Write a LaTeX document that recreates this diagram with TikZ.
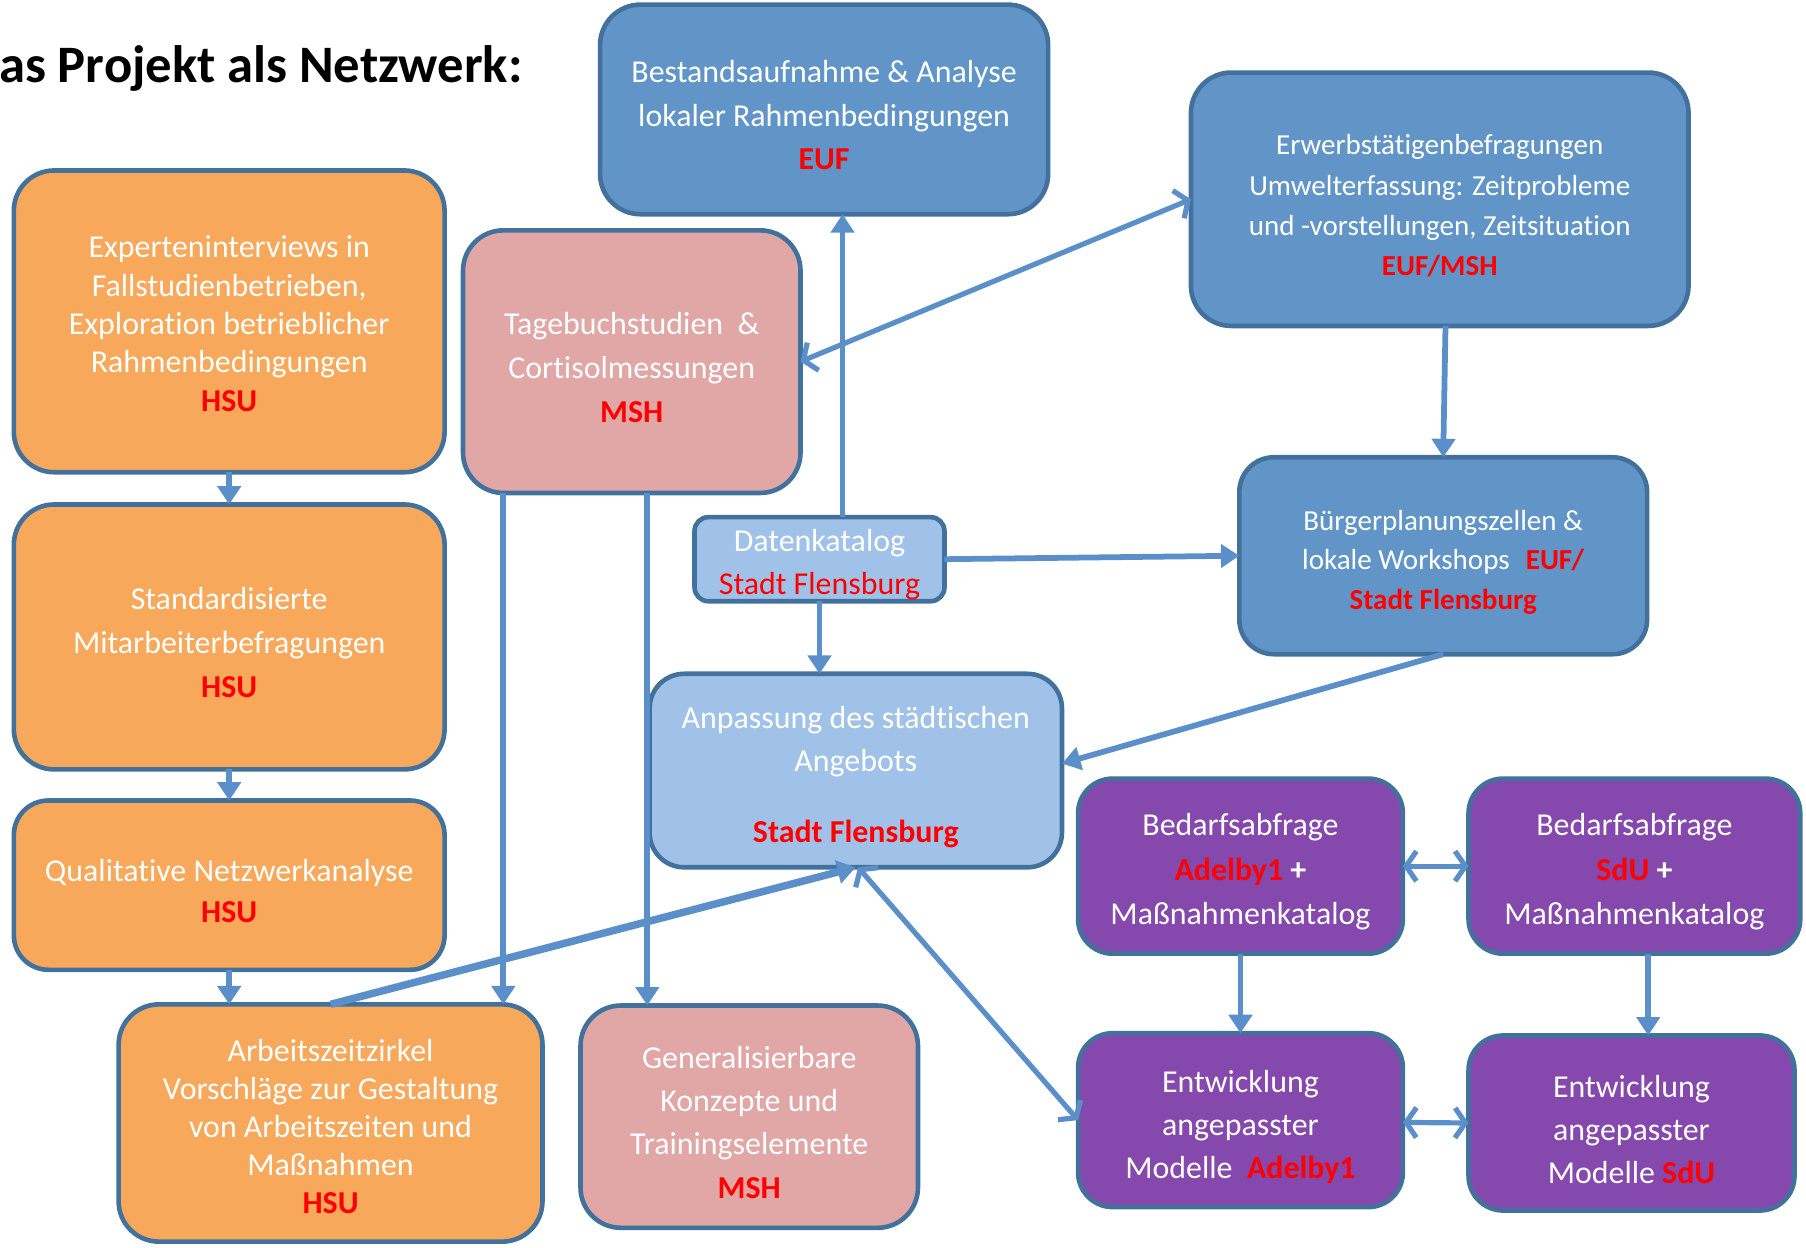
\documentclass[tikz,border=0pt]{standalone}
\usepackage{fontspec}
\setmainfont{Carlito}[Ligatures={NoCommon}]
\usetikzlibrary{arrows.meta}
\definecolor{bordc}{HTML}{41719C}
\definecolor{arrc}{HTML}{5B8FC9}
\definecolor{orf}{HTML}{F8A85A}
\definecolor{pkf}{HTML}{E0A7A6}
\definecolor{blf}{HTML}{6195C8}
\definecolor{lbf}{HTML}{A0C2E8}
\definecolor{puf}{HTML}{8548AC}
\newcommand\rb[1]{\textcolor{red}{\textbf{#1}}}
\newcommand\st{\rule{0pt}{29pt}}
\begin{document}
\begin{tikzpicture}[x=1pt,y=-1pt,
  box/.style={draw=bordc,line width=4pt,rounded corners=35pt,inner sep=0pt,outer sep=0pt,
    align=center,text=white,font=\fontsize{27.7}{36}\selectfont},
  orbox/.style={box,fill=orf},
  pkbox/.style={box,fill=pkf},
  blbox/.style={box,fill=blf},
  lbbox/.style={box,fill=lbf},
  pubox/.style={box,fill=puf,rounded corners=30pt},
  conn/.style={draw=arrc,line width=5pt,-{Triangle[length=16pt,width=20pt]}},
  dconn/.style={draw=arrc,line width=4.5pt,
    {Straight Barb[length=9pt,width=26pt]}-{Straight Barb[length=9pt,width=26pt]}}
]
\useasboundingbox (0,0) rectangle (1568,1083);

% title
\node[anchor=base west,inner sep=0pt,font=\fontsize{45.7}{50}\selectfont\bfseries] (title) at (-1,72) {as Projekt als Netzwerk:};

% orange column
\node[orbox,minimum width=374pt,minimum height=262pt,font=\fontsize{27.7}{33.3}\selectfont] (exp) at (199,279)
  {\rule{0pt}{23pt}Experteninterviews in\\Fallstudienbetrieben,\\Exploration betrieblicher\\Rahmenbedingungen\\\rb{HSU}};
\node[orbox,minimum width=374pt,minimum height=230pt,font=\fontsize{27.7}{38.5}\selectfont] (std) at (199,553)
  {\st Standardisierte\\Mitarbeiterbefragungen\\\rb{HSU}};
\node[orbox,minimum width=374pt,minimum height=147pt,rounded corners=30pt] (qual) at (199,768.5)
  {\st Qualitative Netzwerkanalyse\\\rb{HSU}};
\node[orbox,minimum width=368pt,minimum height=206pt,font=\fontsize{27.7}{33}\selectfont] (arb) at (287,975)
  {\rule{0pt}{25pt}Arbeitszeitzirkel\\Vorschläge zur Gestaltung\\von Arbeitszeiten und\\Maßnahmen\\\rb{HSU}};

% pink
\node[pkbox,minimum width=293pt,minimum height=228pt,font=\fontsize{27.7}{38}\selectfont] (tage) at (548.5,314)
  {\st Tagebuchstudien~~\&\\Cortisolmessungen\\\rb{MSH}};
\node[pkbox,minimum width=293pt,minimum height=193pt,font=\fontsize{27.7}{37.7}\selectfont] (gen) at (650.5,969.5)
  {\st Generalisierbare\\Konzepte und\\Trainingselemente\\\rb{MSH}};

% blue
\node[blbox,minimum width=389pt,minimum height=182pt,font=\fontsize{27.7}{38}\selectfont] (best) at (715.5,95)
  {\st Bestandsaufnahme \& Analyse\\lokaler Rahmenbedingungen\\\rb{EUF}};
\node[blbox,minimum width=432pt,minimum height=220pt,font=\fontsize{25.2}{35}\selectfont] (erw) at (1250,173)
  {\st Erwerbstätigenbefragungen\\Umwelterfassung: Zeitprobleme\\und -vorstellungen, Zeitsituation\\\rb{EUF/MSH}};
\node[blbox,minimum width=354pt,minimum height=171pt,rounded corners=30pt,font=\fontsize{25.2}{34.5}\selectfont] (bue) at (1253,482.5)
  {\st Bürgerplanungszellen \&\\lokale Workshops\hspace{14pt}\rb{EUF/}\\\rb{Stadt Flensburg}};

% light blue
\node[lbbox,minimum width=217pt,minimum height=73pt,rounded corners=12pt,font=\fontsize{27.7}{37}\selectfont] (dat) at (711.5,485.5)
  {\st Datenkatalog\\\textcolor{red}{Stadt Flensburg}};
\node[lbbox,minimum width=358pt,minimum height=168pt,rounded corners=30pt,font=\fontsize{27.7}{37}\selectfont] (anp) at (743,669)
  {\rule{0pt}{31pt}Anpassung des städtischen\\Angebots\\[25pt]\rb{Stadt Flensburg}};

% purple
\node[pubox,minimum width=282pt,minimum height=152pt,font=\fontsize{27.7}{38.5}\selectfont] (bedA) at (1077,752)
  {\st Bedarfsabfrage\\\rb{Adelby1} \textbf{+}\\Maßnahmenkatalog};
\node[pubox,minimum width=288pt,minimum height=152pt,font=\fontsize{27.7}{38.5}\selectfont] (bedS) at (1419,752)
  {\st Bedarfsabfrage\\\rb{SdU} \textbf{+}\\Maßnahmenkatalog};
\node[pubox,minimum width=282pt,minimum height=151pt,font=\fontsize{27.7}{37.5}\selectfont] (entA) at (1077,972.5)
  {\rule{0pt}{31pt}Entwicklung\\angepasster\\Modelle~~\rb{Adelby1}};
\node[pubox,minimum width=283pt,minimum height=152pt,font=\fontsize{27.7}{37.5}\selectfont] (entS) at (1416.5,975)
  {\rule{0pt}{31pt}Entwicklung\\angepasster\\Modelle \rb{SdU}};

% connectors
\draw[conn] (exp.south) -- (std.north);
\draw[conn] (std.south) -- (qual.north);
\draw[conn] (qual.south) -- (qual.south |- arb.north);
\draw[conn] ([xshift=35pt]tage.south west) -- ([xshift=35pt]tage.south west |- arb.north);
\draw[conn] ([xshift=160pt]tage.south west) -- ([xshift=160pt]tage.south west |- gen.north);
\draw[conn] ([xshift=20pt]dat.north) -- ([xshift=20pt]dat.north |- best.south);
\draw[conn] (dat.south) -- (dat.south |- anp.north);
\draw[conn] (dat.east) -- (bue.west);
\draw[conn] ([xshift=5pt]erw.south) -- (bue.north);
\draw[conn] (bue.south) -- ([yshift=6pt]anp.east);
\draw[conn,line width=6.5pt] (arb.north) -- (anp.south);
\draw[dconn] (tage.east) -- (erw.west);
\draw[dconn] ([xshift=2pt]anp.south) -- (entA.west);
\draw[dconn] (bedA.east) -- (bedS.west);
\draw[dconn] ([yshift=-2pt]entA.east) -- (entS.west);
\draw[conn] (bedA.south) -- (bedA.south |- entA.north);
\draw[conn] ([xshift=12pt]bedS.south) -- ([xshift=12pt]bedS.south |- entS.north);
\end{tikzpicture}
\end{document}
